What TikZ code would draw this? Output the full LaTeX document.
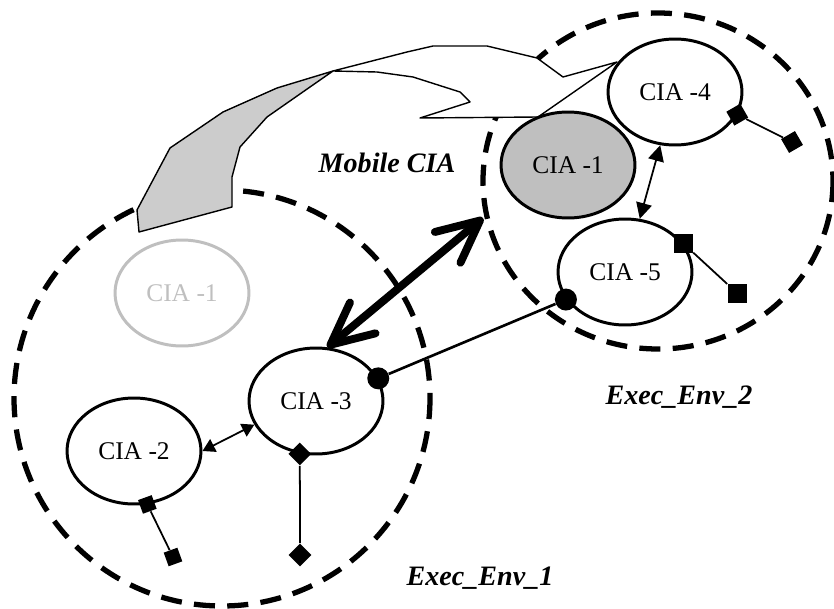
\documentclass[tikz,border=0pt]{standalone}
\usepackage{fontspec}
\setmainfont{Liberation Serif}
\usepackage{tikz}
\usetikzlibrary{shapes.geometric, arrows.meta, calc}

\definecolor{ghost}{gray}{0.75}
\definecolor{ribbon}{gray}{0.8}

\tikzset{
	cia/.style={ellipse, draw, line width=1.7pt, minimum width=2.68cm, minimum height=2.12cm, inner sep=0pt, font=\fontsize{14.5}{17}\selectfont},
	env/.style={line width=3pt, dash pattern=on 12pt off 7pt},
	envlabel/.style={font=\fontsize{16}{19}\selectfont\bfseries\itshape},
	port/.style={rectangle, fill, inner sep=0pt, minimum size=#1},
	port/.default=0.36cm,
	plug/.style={diamond, fill, inner sep=0pt, minimum size=0.46cm},
	dot/.style={circle, fill, inner sep=0pt, minimum size=0.44cm},
}

\begin{document}
\begin{tikzpicture}[x=0.02cm, y=-0.02cm]
			\useasboundingbox (0,0) rectangle (834,608);

			% execution environments
			\begin{scope}
				\draw[env] (222,398) ellipse [x radius=208, y radius=208];
				\draw[env] (658,181) ellipse [x radius=175, y radius=168];
			\end{scope}

			% migration ribbon
			\begin{scope}[line width=0.8pt, line join=round]
				\filldraw[fill=ribbon] (139,232) -- (137,210) -- (170,148) -- (223,112) -- (277,88) -- (333,71)
					-- (310,87) -- (267,117) -- (240,147) -- (232,177) -- (232,207) -- cycle;
				\filldraw[fill=white] (333,71) -- (407,52) -- (433,46) -- (487,46) -- (537,58) -- (563,77)
					-- (617,62) -- (538,117) -- (420,118) -- (470,102) -- (460,92) -- (413,77) -- (377,72) -- cycle;
			\end{scope}

			% agents
			\node[cia, draw=ghost, text=ghost] (old1) at (182,293) {CIA -1};
			\node[cia, fill=ghost] (cia1) at (568,165) {CIA -1};
			\node[cia] (cia2) at (134,451) {CIA -2};
			\node[cia] (cia3) at (316,401) {CIA -3};
			\node[cia] (cia4) at (675,92) {CIA -4};
			\node[cia] (cia5) at (625,272) {CIA -5};

			\node[envlabel] (mob) at (387,163) {Mobile CIA};
			\node[envlabel] (env1) at (480,578) {Exec\_Env\_1};
			\node[envlabel] (env2) at (679,397) {Exec\_Env\_2};

			% links
			\draw[line width=1pt, {Triangle[length=9pt, width=9pt]}-{Triangle[length=9pt, width=9pt]}] (cia4) -- (cia5);
			\draw[line width=1pt, {Triangle[length=7pt, width=8pt]}-{Triangle[length=7pt, width=8pt]}] (cia2.0) -- (cia3.201);

			\coordinate (dest) at (483,218);
			\draw[line width=4.5pt, {Straight Barb[length=0.84cm, width=0.8cm, round]}-{Straight Barb[length=0.84cm, width=0.8cm, round]}] (cia3.78) -- (dest);

			\node[dot] (d3) at (cia3.20) {};
			\node[dot] (d5) at (cia5.205) {};
			\draw[line width=1.5pt] (d3) -- (d5);

			% ports
			\node[port=0.32cm, rotate=30] (p4a) at (cia4.340) {};
			\node[port=0.32cm, rotate=30] (p4b) at (792,142) {};
			\draw[line width=1pt] (p4a) -- (p4b);

			\node[port=0.38cm] (p5a) at (cia5.26) {};
			\node[port=0.38cm] (p5b) at (737,293) {};
			\draw[line width=1pt] (p5a) -- (p5b);

			\node[port=0.29cm, rotate=20] (p2a) at (cia2.284) {};
			\node[port=0.29cm, rotate=20] (p2b) at (173,557) {};
			\draw[line width=1pt] (p2a) -- (p2b);

			\node[plug] (p3a) at (cia3.253) {};
			\node[plug] (p3b) at (300,555) {};
			\draw[line width=1pt] (p3a) -- (p3b);
		\end{tikzpicture}
\end{document}
